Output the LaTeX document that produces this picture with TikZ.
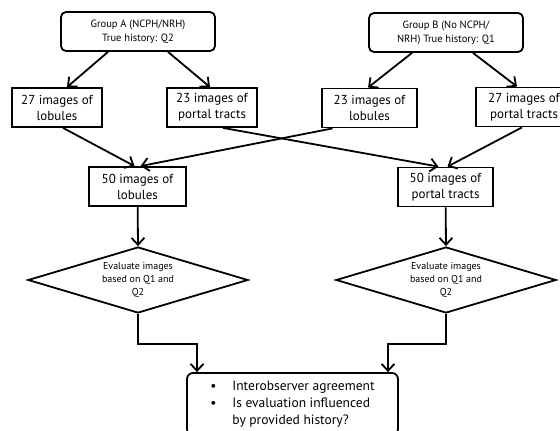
\documentclass[tikz,border=0pt]{standalone}
\usepackage{fontspec}
\setmainfont{PT Sans}
\usetikzlibrary{shapes.geometric,arrows.meta}
\begin{document}
\begin{tikzpicture}[x=1pt,y=-1pt,line width=1.8pt,
    group/.style={draw,rounded corners=5pt,minimum width=154pt,minimum height=39pt,
      align=center,font=\fontsize{10.5}{14}\selectfont},
    imgbox/.style={draw,minimum height=39pt,inner sep=0pt,align=center,
      font=\fontsize{13}{16}\selectfont},
    evalbox/.style={draw,diamond,aspect=3.33,inner sep=0pt,minimum width=220pt,
      minimum height=66pt,align=center,font=\fontsize{10}{13}\selectfont},
    flow/.style={-{Straight Barb[length=7pt,width=13pt]}}]
      \useasboundingbox (0,0) rectangle (560,431);
      \draw
        (138,31.5) node[group] (ga){Group A (NCPH/NRH)\\True history: Q2}
        (446,32.5) node[group] (gb){Group B (No NCPH/\\NRH) True history: Q1}
        (57,107.5) node[imgbox,minimum width=90pt] (la){27 images of\\lobules}
        (212,107.5) node[imgbox,minimum width=90pt] (pa){23 images of\\portal tracts}
        (369.5,108) node[imgbox,minimum width=95pt] (lb){23 images of\\lobules}
        (524,107) node[imgbox,minimum width=96pt] (pb){27 images of\\portal tracts}
        (137.5,186.5) node[imgbox,minimum width=97pt] (l50){50 images of\\lobules}
        (445.5,187) node[imgbox,minimum width=95pt] (p50){50 images of\\portal tracts}
        (138,280) node[evalbox] (da){Evaluate images\\based on Q1 and\\Q2}
        (446,280) node[evalbox] (db){Evaluate images\\based on Q1 and\\Q2}
        (292.5,404) node[draw,rounded corners=6pt,minimum width=211pt,minimum height=62pt,
          align=left,font=\fontsize{13.5}{17}\selectfont] (res)
          {\makebox[22pt][l]{\textbullet}Interobserver agreement\\
           \makebox[22pt][l]{\textbullet}Is evaluation influenced\\
           \hspace*{22pt}by provided history?};
      \begin{scope}[flow]
        \draw ([xshift=-30pt]ga.south) to ([xshift=10pt]la.north);
        \draw ([xshift=30pt]ga.south) to ([xshift=-2pt]pa.north);
        \draw ([xshift=-34pt]gb.south) to ([xshift=-1.5pt]lb.north);
        \draw ([xshift=27pt]gb.south) to ([xshift=-7pt]pb.north);
        \draw ([xshift=6pt]la.south) to ([xshift=-3pt]l50.north);
        \draw ([xshift=-37pt]lb.south) to ([xshift=3pt]l50.north);
        \draw ([xshift=11pt]pa.south) to ([xshift=-7pt]p50.north);
        \draw ([xshift=-2pt]pb.south) to ([xshift=2pt]p50.north);
        \draw (l50) to (da.north);
        \draw (p50) to (db.north);
        \draw (da.south) -- ++(0,30) -| ([xshift=-95.5pt]res.north);
        \draw (db.south) -- ++(0,30) -| ([xshift=95.5pt]res.north);
      \end{scope}
    \end{tikzpicture}
\end{document}
